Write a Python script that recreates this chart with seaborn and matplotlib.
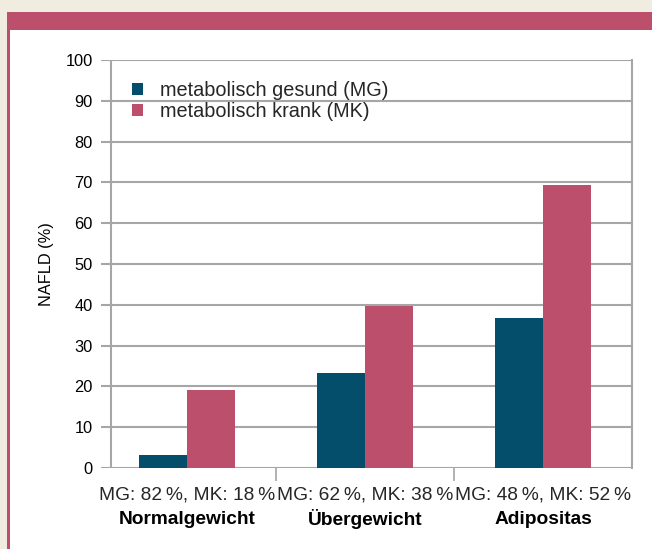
import matplotlib
matplotlib.use("Agg")
import matplotlib.pyplot as plt
from matplotlib.patches import Rectangle
from matplotlib.transforms import blended_transform_factory
import seaborn as sns
import pandas as pd

# Data
categories = ["Normalgewicht", "Übergewicht", "Adipositas"]
share_labels = ["MG: 82\u2009%, MK: 18\u2009%",
                "MG: 62\u2009%, MK: 38\u2009%",
                "MG: 48\u2009%, MK: 52\u2009%"]
groups = ["metabolisch gesund (MG)", "metabolisch krank (MK)"]
nafld_mg = [3.2, 23.2, 36.7]
nafld_mk = [19.0, 39.7, 69.4]
yticks = [0, 10, 20, 30, 40, 50, 60, 70, 80, 90, 100]

TEAL = "#044e6c"
PINK = "#bc4f6c"
BEIGE = "#f0ecdf"
GRID = "#a6a6a6"

df = pd.DataFrame({
    "Kategorie": categories * 2,
    "Gruppe": [groups[0]] * 3 + [groups[1]] * 3,
    "NAFLD": nafld_mg + nafld_mk,
})

sns.set_theme(style="white")
plt.rcParams["font.family"] = ["Liberation Sans", "DejaVu Sans"]

W, H = 652, 549
fig = plt.figure(figsize=(W / 100, H / 100), dpi=100)
fig.patch.set_facecolor(BEIGE)

def px_rect(x0, y0, x1, y1, color):
    fig.patches.append(Rectangle((x0 / W, 1 - y1 / H), (x1 - x0) / W, (y1 - y0) / H,
                                 transform=fig.transFigure, facecolor=color,
                                 edgecolor="none", zorder=-5))

# Frame: pink header band, pink left rule, white panel
px_rect(7, 12, W, 30, PINK)
px_rect(7, 12, 10, H, PINK)
px_rect(10, 30, W, H, "white")

ax = fig.add_axes([101 / W, 1 - 468 / H, 531 / W, 408 / H])
ax.set_facecolor("white")
ax.set_zorder(2)

sns.barplot(data=df, x="Kategorie", y="NAFLD", hue="Gruppe", order=categories,
            hue_order=groups, palette=[TEAL, PINK], width=0.54, dodge=True,
            saturation=1, errorbar=None, linewidth=0, ax=ax, zorder=3)

ax.set_xlim(-0.483, 2.5)
ax.set_ylim(0, 100)
ax.set_yticks(yticks)
ax.yaxis.grid(True, color=GRID, linewidth=1.5, zorder=0)
ax.set_axisbelow(True)
ax.tick_params(axis="y", length=0, pad=6, labelsize=11.8, colors="black")

# Left value axis sits slightly inside the plotting area
ax.axvline(-0.427, ymin=0, ymax=1, color=GRID, linewidth=1.5, zorder=1)

for side in ["left", "top", "bottom"]:
    ax.spines[side].set_visible(False)
ax.spines["right"].set_color(GRID)
ax.spines["right"].set_linewidth(1.5)

# Category separators below the axis
ax.set_xticks([0.5, 1.5], minor=True)
ax.tick_params(axis="x", which="minor", length=9, width=1.2, color=GRID, bottom=True)
ax.set_xticks(range(len(categories)))
ax.set_xticklabels(share_labels, fontsize=13.8)
ax.tick_params(axis="x", which="major", length=0, pad=13)

trans = blended_transform_factory(ax.transData, ax.transAxes)
for i, name in enumerate(categories):
    ax.text(i, -(519 - 468) / 408, name, transform=trans, ha="center", va="center",
            fontsize=13.8, fontweight="bold", color="black")

ax.set_xlabel("")
ax.set_ylabel("NAFLD (%)", fontsize=11.8, color="black")
ax.yaxis.set_label_coords(-(101 - 54) / 531, 0.5)

leg = ax.legend(loc="upper left", bbox_to_anchor=((132 - 101) / 531, 1 - (81 - 60) / 408),
                frameon=False, fontsize=14.3, handlelength=0.55, handleheight=0.55,
                handletextpad=0.85, labelspacing=0.08, borderpad=0, borderaxespad=0)

fig.savefig("out.png", dpi=100, facecolor=fig.get_facecolor())
